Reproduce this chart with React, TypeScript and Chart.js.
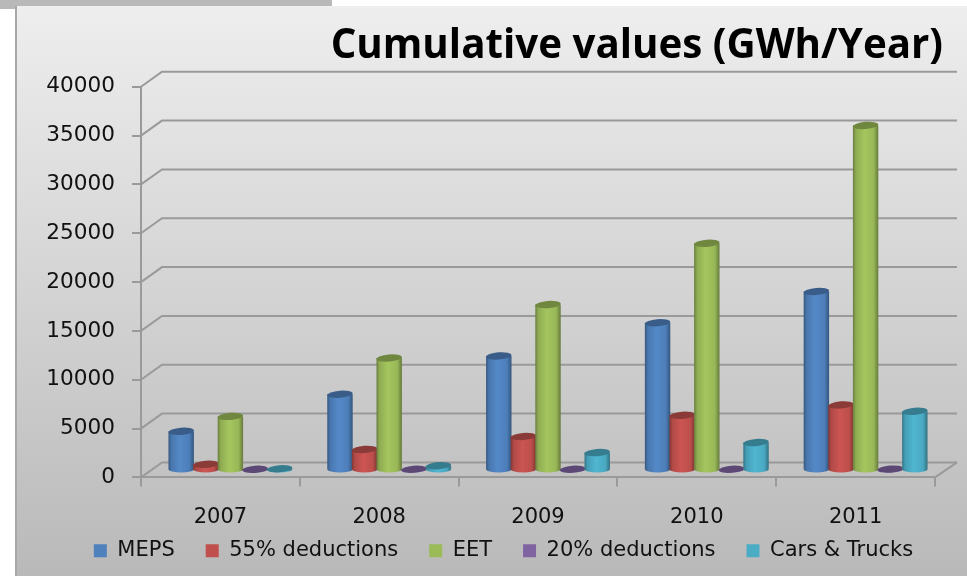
import React, { useEffect, useRef } from "react";
import { Chart, registerables } from "chart.js";

Chart.register(...registerables);

const years = ["2007", "2008", "2009", "2010", "2011"];
const meps = [3950, 7750, 11670, 15070, 18270];
const deductions55 = [570, 2100, 3420, 5590, 6650];
const eet = [5480, 11460, 16930, 23200, 35270];
const deductions20 = [60, 70, 70, 70, 80];
const carsTrucks = [120, 430, 1770, 2800, 6000];

const FONT = "'DejaVu Sans'";
const DEPTH_X = 21;
const DEPTH_Y = 15;
const GRID = "#9a9a9a";

function shade(hex: string, f: number) {
  const n = parseInt(hex.slice(1), 16);
  const ch = (v: number) => Math.min(255, Math.round(v * f));
  return `rgb(${ch((n >> 16) & 255)},${ch((n >> 8) & 255)},${ch(n & 255)})`;
}

const wallPlugin = {
  id: "wall",
  afterLayout(chart: any) {
    chart.titleBlock.right = 943;
    chart.legend.left += 36;
    chart.legend.right += 36;
    const h = chart.legend.bottom - chart.legend.top;
    chart.legend.top = 509.3;
    chart.legend.bottom = 509.3 + h;
  },
  beforeDatasetsDraw(chart: any) {
    const { ctx, chartArea, scales } = chart;
    ctx.save();
    ctx.strokeStyle = GRID;
    ctx.lineWidth = 2;
    for (const t of scales.y.ticks) {
      const y = scales.y.getPixelForValue(t.value);
      ctx.beginPath();
      ctx.moveTo(chartArea.left, y);
      ctx.lineTo(chartArea.left + DEPTH_X, y - DEPTH_Y);
      ctx.lineTo(chartArea.right + DEPTH_X + 1, y - DEPTH_Y);
      ctx.stroke();
    }
    const y0 = scales.y.getPixelForValue(0);
    ctx.beginPath();
    ctx.moveTo(chartArea.right, y0);
    ctx.lineTo(chartArea.right + DEPTH_X + 1, y0 - DEPTH_Y);
    ctx.stroke();

    // cylinders, later series in front of earlier ones
    const n = chart.data.datasets.length;
    for (let d = 0; d < n; d++) {
      const meta = chart.getDatasetMeta(d);
      const col = chart.data.datasets[d].backgroundColor as string;
      for (const el of meta.data as any[]) {
        const { x, y, base, width } = el.getProps(["x", "y", "base", "width"], true);
        const cx = x + 10;
        const rx = width / 2 + 0.4;
        const ry = 3.6;
        const top = y - DEPTH_Y / 2;
        const bot = base - DEPTH_Y / 2;
        const g = ctx.createLinearGradient(cx - rx, 0, cx + rx, 0);
        g.addColorStop(0, shade(col, 0.68));
        g.addColorStop(0.12, shade(col, 0.92));
        g.addColorStop(0.45, shade(col, 1.06));
        g.addColorStop(0.82, shade(col, 0.98));
        g.addColorStop(1, shade(col, 0.66));
        ctx.fillStyle = g;
        ctx.beginPath();
        ctx.moveTo(cx - rx, top);
        ctx.lineTo(cx - rx, bot);
        ctx.ellipse(cx, bot, rx, ry, 0, Math.PI, 0, true);
        ctx.lineTo(cx + rx, top);
        ctx.closePath();
        ctx.fill();
        ctx.fillStyle = shade(col, 0.72);
        ctx.beginPath();
        ctx.ellipse(cx, top, rx, ry, -0.08, 0, Math.PI * 2);
        ctx.fill();
      }
    }
    ctx.restore();
  },
  beforeDatasetDraw() {
    return false;
  },
};

export default function App() {
  const ref = useRef<HTMLCanvasElement>(null);
  useEffect(() => {
    const mk = (label: string, data: number[], color: string) => ({
      label,
      data,
      backgroundColor: color,
      borderWidth: 0,
    });
    const chart = new Chart(ref.current!, {
      type: "bar",
      data: {
        labels: years,
        datasets: [
          mk("MEPS", meps, "#4f81bd"),
          mk("55% deductions", deductions55, "#c0504d"),
          mk("EET", eet, "#9bbb59"),
          mk("20% deductions", deductions20, "#8064a2"),
          mk("Cars & Trucks", carsTrucks, "#4bacc6"),
        ],
      },
      options: {
        responsive: false,
        animation: false,
        layout: { padding: { left: 0, right: 32, top: 0, bottom: -23.4 } },
        datasets: { bar: { barPercentage: 1, categoryPercentage: 0.775 } },
        plugins: {
          tooltip: { enabled: false },
          title: {
            display: true,
            text: "Cumulative values (GWh/Year)",
            align: "end",
            color: "#000",
            font: { family: "'Open Sans'", size: 40.3, weight: "bold" },
            padding: { top: 22, bottom: 16.4 },
          },
          legend: {
            position: "bottom",
            labels: {
              boxWidth: 13,
              boxHeight: 13,
              padding: 31,
              color: "#111",
              font: { family: FONT, size: 21 },
            },
          },
        },
        scales: {
          x: {
            afterFit: (s: any) => {
              s.height = 60;
            },
            grid: { drawOnChartArea: false, drawTicks: true, tickLength: 9, color: GRID, lineWidth: 2, offset: true },
            border: { color: GRID, width: 2 },
            ticks: { color: "#111", padding: 19, maxRotation: 0, font: { family: FONT, size: 21 } },
          },
          y: {
            min: 0,
            max: 40000,
            afterFit: (s: any) => {
              s.width = 141;
            },
            grid: { drawOnChartArea: false, drawTicks: true, tickLength: 9, color: GRID, lineWidth: 2 },
            border: { color: GRID, width: 2 },
            ticks: {
              stepSize: 5000,
              color: "#111",
              padding: 17,
              font: { family: FONT, size: 21.6 },
              callback: (v: any) => String(v),
            },
          },
        },
      },
      plugins: [wallPlugin],
    } as any);
    return () => chart.destroy();
  }, []);

  return (
    <div style={{ position: "absolute", left: 0, top: 0, width: 967, height: 576, background: "#fff", overflow: "hidden" }}>
      <div style={{ position: "absolute", left: 0, top: 0, width: 332, height: 6, background: "#b9b9b9" }} />
      <div style={{ position: "absolute", left: 0, top: 6, width: 15, height: 3, background: "#b9b9b9" }} />
      <div
        style={{
          position: "absolute",
          left: 15,
          top: 6,
          width: 952,
          height: 570,
          boxSizing: "border-box",
          borderLeft: "2px solid #a8a8a8",
          background: "linear-gradient(180deg, #eeeeee 0%, #b9b9b9 100%)",
        }}
      />
      <canvas ref={ref} width={967} height={576} style={{ position: "absolute", left: 0, top: 0, display: "block" }} />
    </div>
  );
}
